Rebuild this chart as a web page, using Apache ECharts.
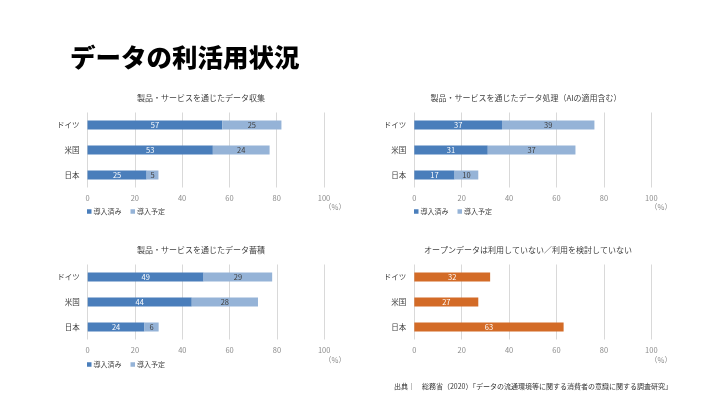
<!DOCTYPE html>
<html>
<head>
<meta charset="utf-8">
<script src="https://cdn.jsdelivr.net/npm/echarts@6/dist/echarts.min.js"></script>
<style>html,body{margin:0;padding:0;background:#fff}#c{width:720px;height:405px}</style>
</head>
<body>
<div id="c"></div>
<script>
const categories = ['ドイツ', '米国', '日本'];
const xTicks = [0, 20, 40, 60, 80, 100];
const seriesNames = ['導入済み', '導入予定'];
const chartTitles = [
  '製品・サービスを通じたデータ収集',
  '製品・サービスを通じたデータ処理（AIの適用含む）',
  '製品・サービスを通じたデータ蓄積',
  'オープンデータは利用していない／利用を検討していない'
];
const collectDone = [57, 53, 25];
const collectPlan = [25, 24, 5];
const processDone = [37, 31, 17];
const processPlan = [39, 37, 10];
const storeDone = [49, 44, 24];
const storePlan = [29, 28, 6];
const openNotUsed = [32, 27, 63];
const mainTitle = 'データの利活用状況';
const sourceText = '出典｜　総務省（2020）「データの流通環境等に関する消費者の意識に関する調査研究」';
const unitText = '（%）';

const FONT = '"Noto Sans CJK JP", "Noto Sans", sans-serif';
const DARK = '#4a7ebb';
const LIGHT = '#95b3d7';
const ORANGE = '#d36b27';

const grids = [
  {left: 87.5, top: 112.5, width: 236.5, height: 75},
  {left: 414.3, top: 112.5, width: 237, height: 75},
  {left: 87.7, top: 264.5, width: 236.5, height: 75},
  {left: 414.3, top: 264.5, width: 237, height: 75}
];

const xAxes = grids.map((g, i) => ({
  type: 'value', gridIndex: i, min: xTicks[0], max: xTicks[xTicks.length - 1],
  interval: xTicks[1] - xTicks[0],
  axisLine: {show: false}, axisTick: {show: false},
  splitLine: {show: true, lineStyle: {color: '#d9d9d9', width: 1}},
  axisLabel: {color: '#8c8c8c', fontSize: 7.5, fontFamily: FONT, margin: 7}
}));
const yAxes = grids.map((g, i) => ({
  type: 'category', gridIndex: i, data: categories, inverse: true,
  axisLine: {show: false}, axisTick: {show: false},
  axisLabel: {color: '#404040', fontSize: 7.5, fontFamily: FONT, margin: 8}
}));

function barSeries(name, data, idx, color, labelColor, stack) {
  return {
    name: name, type: 'bar', xAxisIndex: idx, yAxisIndex: idx, data: data,
    stack: stack, barWidth: 9, itemStyle: {color: color},
    label: {show: true, position: 'inside', color: labelColor, fontSize: 7.5, fontFamily: FONT},
    emphasis: {disabled: true}
  };
}

const series = [
  barSeries(seriesNames[0], collectDone, 0, DARK, '#ffffff', 's0'),
  barSeries(seriesNames[1], collectPlan, 0, LIGHT, '#404040', 's0'),
  barSeries(seriesNames[0], processDone, 1, DARK, '#ffffff', 's1'),
  barSeries(seriesNames[1], processPlan, 1, LIGHT, '#404040', 's1'),
  barSeries(seriesNames[0], storeDone, 2, DARK, '#ffffff', 's2'),
  barSeries(seriesNames[1], storePlan, 2, LIGHT, '#404040', 's2'),
  barSeries('open', openNotUsed, 3, ORANGE, '#ffffff', 's3')
];

const titleCenters = [[196, 89], [521, 89], [196, 241], [523, 241]];
const titles = [{
  text: mainTitle, left: 65, top: 40,
  textStyle: {fontSize: 25.5, fontWeight: 900, color: '#000', fontFamily: FONT}
}].concat(chartTitles.map((t, i) => ({
  text: t, left: titleCenters[i][0], top: titleCenters[i][1], textAlign: 'center',
  textStyle: {fontSize: 8, fontWeight: 'normal', color: '#404040', fontFamily: FONT}
})));

const legendPos = [[87, 208], [414, 208], [87, 361]];
const legends = legendPos.map(p => ({
  data: seriesNames, left: p[0], top: p[1], icon: 'rect', itemWidth: 4.5, itemHeight: 4.5,
  itemGap: 9, padding: 0, selectedMode: false,
  textStyle: {fontSize: 7, color: '#404040', fontFamily: FONT, padding: [0, 0, 0, -3]}
}));

const unitPos = [[335, 207], [661, 207], [335, 360], [661, 360]];
const graphics = unitPos.map(p => ({
  type: 'text', x: p[0], y: p[1],
  style: {text: unitText, fill: '#8c8c8c', font: '7.5px ' + FONT, textAlign: 'center', textVerticalAlign: 'middle'}
}));
graphics.push({
  type: 'text', x: 672, y: 386,
  style: {text: sourceText, fill: '#333', font: '7px ' + FONT, textAlign: 'right', textVerticalAlign: 'middle'}
});

const chart = echarts.init(document.getElementById('c'), null, {renderer: 'canvas'});
chart.setOption({
  animation: false,
  backgroundColor: '#fff',
  title: titles,
  legend: legends,
  grid: grids,
  xAxis: xAxes,
  yAxis: yAxes,
  series: series,
  graphic: graphics
});
</script>
</body>
</html>
